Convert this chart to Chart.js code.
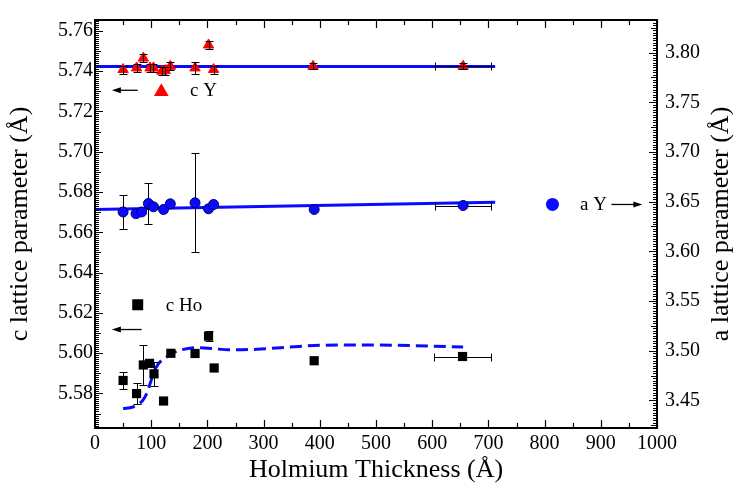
<!DOCTYPE html>
<html>
<head>
<meta charset="utf-8">
<script src="https://cdn.jsdelivr.net/npm/chart.js@4"></script>
<style>
  html, body { margin: 0; padding: 0; background: #fff; }
</style>
</head>
<body>
<canvas id="latt" width="738" height="493"></canvas>
<script>
const FONT = 'Liberation Serif';
Chart.defaults.font.family = FONT;

// Y: c lattice parameter vs Ho thickness
const thickCY = [50, 74, 86, 98, 104, 119, 125, 134, 178, 202, 211, 388, 655];
const cY      = [5.7408, 5.7416, 5.7465, 5.7416, 5.7416, 5.7400, 5.7403, 5.7424, 5.7416, 5.7530, 5.7408, 5.7424, 5.7424];
const cYErr   = [0.002, 0.002, 0.002, 0.002, 0.002, 0.002, 0.002, 0.002, 0.003, 0.002, 0.002, 0.0015, 0.0015];
const cYXErr  = [0, 0, 0, 0, 0, 0, 0, 0, 0, 0, 0, 0, 50];

// Y: a lattice parameter (right axis)
const thickAY = [50, 73, 83, 95, 104, 122, 134, 178, 202, 211, 390, 655];
const aY      = [3.6396, 3.6379, 3.6396, 3.6481, 3.6448, 3.6421, 3.6478, 3.6488, 3.6428, 3.6471, 3.6421, 3.6461];
const aYErr   = [0.0174, 0, 0, 0.021, 0, 0, 0, 0.0497, 0, 0, 0, 0];
const aYXErr  = [0, 0, 0, 0, 0, 0, 0, 0, 0, 0, 0, 50];

// Ho: c lattice parameter
const thickHo = [50, 74, 86, 97, 105, 122, 135, 178, 202, 212, 390, 654];
const cHo     = [5.5864, 5.5799, 5.5941, 5.5949, 5.5897, 5.5762, 5.5999, 5.5998, 5.6084, 5.5926, 5.5962, 5.5983];
const cHoErr  = [0.004, 0.0054, 0.0097, 0, 0.006, 0, 0, 0, 0.0025, 0, 0, 0];
const cHoXErr = [0, 0, 0, 0, 0, 0, 0, 0, 0, 0, 0, 50];

// fitted curves
const fitX    = [0, 712];
const cYFit   = [5.7423, 5.7423];
const aYFit   = [3.6421, 3.6495];
const hoFitX  = [50, 68, 89, 98, 107, 133, 151, 187, 210, 240, 288, 347, 406, 500, 655];
const hoFit   = [5.5725, 5.5733, 5.5782, 5.5848, 5.5921, 5.5991, 5.6014, 5.6027, 5.6022, 5.6016, 5.6019, 5.6030, 5.6039, 5.6040, 5.6030];

const xTicks = [0, 100, 200, 300, 400, 500, 600, 700, 800, 900, 1000];
const cTicks = [5.58, 5.60, 5.62, 5.64, 5.66, 5.68, 5.70, 5.72, 5.74, 5.76];
const aTicks = [3.45, 3.50, 3.55, 3.60, 3.65, 3.70, 3.75, 3.80];

const C_MIN = 5.5628, C_MAX = 5.7654;
const A_MIN = 3.4222, A_MAX = 3.8328;

function pts(xs, ys) {
  return xs.map((x, i) => ({ x: x, y: ys[i] }));
}

function drawErrors(chart, meta, ds) {
  const ctx = chart.ctx;
  const sx = chart.scales.x, sy = chart.scales[meta.yAxisID];
  const cap = 4;
  ctx.save();
  ctx.strokeStyle = '#000';
  ctx.lineWidth = 1;
  ds.data.forEach((p, i) => {
    const px = Math.round(sx.getPixelForValue(p.x)) + 0.5;
    const py = Math.round(sy.getPixelForValue(p.y)) + 0.5;
    const ey = ds.yErr ? ds.yErr[i] : 0;
    const ex = ds.xErr ? ds.xErr[i] : 0;
    ctx.beginPath();
    if (ey) {
      const t = Math.round(sy.getPixelForValue(p.y + ey)) + 0.5;
      const b = Math.round(sy.getPixelForValue(p.y - ey)) + 0.5;
      ctx.moveTo(px, t); ctx.lineTo(px, b);
      ctx.moveTo(px - cap, t); ctx.lineTo(px + cap, t);
      ctx.moveTo(px - cap, b); ctx.lineTo(px + cap, b);
    }
    if (ex) {
      const l = Math.round(sx.getPixelForValue(p.x - ex)) + 0.5;
      const r = Math.round(sx.getPixelForValue(p.x + ex)) + 0.5;
      ctx.moveTo(l, py); ctx.lineTo(r, py);
      ctx.moveTo(l, py - cap); ctx.lineTo(l, py + cap);
      ctx.moveTo(r, py - cap); ctx.lineTo(r, py + cap);
    }
    ctx.stroke();
  });
  ctx.restore();
}

const errorBars = {
  id: 'errorBars',
  beforeDatasetDraw(chart, args) {
    const ds = chart.data.datasets[args.index];
    if ((ds.yErr || ds.xErr) && !ds.errOnTop) drawErrors(chart, args.meta, ds);
  },
  afterDatasetDraw(chart, args) {
    const ds = chart.data.datasets[args.index];
    if ((ds.yErr || ds.xErr) && ds.errOnTop) drawErrors(chart, args.meta, ds);
  }
};

function marker(ctx, style, x, y, r, fill) {
  ctx.beginPath();
  if (style === 'triangle') {
    ctx.moveTo(x, y - r);
    ctx.lineTo(x + r * 1.05, y + r * 0.8);
    ctx.lineTo(x - r * 1.05, y + r * 0.8);
    ctx.closePath();
  } else if (style === 'rect') {
    ctx.rect(x - r, y - r, 2 * r, 2 * r);
  } else {
    ctx.arc(x, y, r, 0, Math.PI * 2);
  }
  ctx.fillStyle = fill;
  ctx.fill();
}

function arrow(ctx, x1, x2, y) {
  const dir = Math.sign(x2 - x1);
  ctx.beginPath();
  ctx.moveTo(x1, y); ctx.lineTo(x2 - dir * 6, y);
  ctx.lineWidth = 1.3;
  ctx.strokeStyle = '#000';
  ctx.stroke();
  ctx.beginPath();
  ctx.moveTo(x2, y);
  ctx.lineTo(x2 - dir * 9, y - 3);
  ctx.lineTo(x2 - dir * 9, y + 3);
  ctx.closePath();
  ctx.fillStyle = '#000';
  ctx.fill();
}

// series labels with arrows pointing to the axis each series belongs to
const notes = [
  { style: 'triangle', fill: '#ff0000', r: 7, mx: 118, tx: 169, y: 5.7305, text: 'c Y', from: 76, to: 30 },
  { style: 'rect', fill: '#000', r: 5.5, mx: 76, tx: 126, y: 5.624, text: 'c Ho', from: 83, to: 30, ay: 5.6117 },
  { style: 'circle', fill: '#0a0aff', r: 6.5, mx: 814, tx: 863, y: 5.6738, text: 'a Y', from: 919, to: 974 }
];

const labels = {
  id: 'labels',
  afterDraw(chart) {
    const ctx = chart.ctx, sx = chart.scales.x, sy = chart.scales.y;
    ctx.save();
    notes.forEach(n => {
      const y = sy.getPixelForValue(n.y);
      marker(ctx, n.style, sx.getPixelForValue(n.mx), y, n.r, n.fill);
      ctx.font = '19px "' + FONT + '"';
      ctx.fillStyle = '#000';
      ctx.textBaseline = 'middle';
      ctx.textAlign = 'left';
      ctx.fillText(n.text, sx.getPixelForValue(n.tx), y + 1);
      const ay = n.ay !== undefined ? sy.getPixelForValue(n.ay) : y;
      arrow(ctx, sx.getPixelForValue(n.from), sx.getPixelForValue(n.to), ay);
    });
    // right axis title, reading bottom to top like the left one
    const a = chart.chartArea;
    ctx.translate(721, (a.top + a.bottom) / 2);
    ctx.rotate(-Math.PI / 2);
    ctx.font = '26px "' + FONT + '"';
    ctx.textAlign = 'center';
    ctx.textBaseline = 'middle';
    ctx.fillText('a lattice parameter (Å)', 0, 0);
    ctx.restore();
  }
};

// box frame with inward major/minor ticks on all sides
const frame = {
  id: 'frame',
  afterDraw(chart) {
    const { ctx, chartArea: a, scales } = chart;
    ctx.save();
    ctx.strokeStyle = '#000';
    ctx.lineWidth = 1.2;
    const seg = (x1, y1, x2, y2) => { ctx.moveTo(x1, y1); ctx.lineTo(x2, y2); };
    ctx.beginPath();
    for (let k = 0; k <= 20; k++) {
      const px = Math.round(scales.x.getPixelForValue(k * 50)) + 0.5;
      const len = k % 2 === 0 ? 8 : 5;
      seg(px, a.bottom, px, a.bottom - len);
      seg(px, a.top, px, a.top + len);
    }
    for (let k = Math.ceil(C_MIN * 1000); k <= Math.floor(C_MAX * 1000); k++) {
      const py = Math.round(scales.y.getPixelForValue(k / 1000)) + 0.5;
      const len = k % 20 === 0 ? 8 : (k % 10 === 0 ? 6 : 4);
      seg(a.left, py, a.left + len, py);
    }
    for (let k = Math.ceil(A_MIN * 400); k <= Math.floor(A_MAX * 400); k++) {
      const py = Math.round(scales.y2.getPixelForValue(k / 400)) + 0.5;
      const len = k % 20 === 0 ? 8 : (k % 10 === 0 ? 6 : 4);
      seg(a.right, py, a.right - len, py);
    }
    ctx.stroke();
    ctx.lineWidth = 2;
    ctx.strokeRect(a.left, a.top, a.right - a.left, a.bottom - a.top);
    ctx.restore();
  }
};

new Chart(document.getElementById('latt'), {
  type: 'scatter',
  data: {
    datasets: [
      {
        label: 'c Y', data: pts(thickCY, cY), yAxisID: 'y',
        pointStyle: 'triangle', pointRadius: 6,
        backgroundColor: '#ff0000', borderColor: '#ff0000', borderWidth: 1,
        yErr: cYErr, xErr: cYXErr, errOnTop: true
      },
      {
        label: 'a Y', data: pts(thickAY, aY), yAxisID: 'y2',
        pointStyle: 'circle', pointRadius: 5,
        backgroundColor: '#0a0aff', borderColor: '#00006e', borderWidth: 1,
        yErr: aYErr, xErr: aYXErr
      },
      {
        label: 'c Ho', data: pts(thickHo, cHo), yAxisID: 'y',
        pointStyle: 'rect', pointRadius: 6.5,
        backgroundColor: '#000', borderColor: '#000', borderWidth: 0,
        yErr: cHoErr, xErr: cHoXErr
      },
      {
        label: 'c Y fit', type: 'line', data: pts(fitX, cYFit), yAxisID: 'y',
        borderColor: '#0a0aff', borderWidth: 3, pointRadius: 0, fill: false
      },
      {
        label: 'a Y fit', type: 'line', data: pts(fitX, aYFit), yAxisID: 'y2',
        borderColor: '#0a0aff', borderWidth: 3, pointRadius: 0, fill: false
      },
      {
        label: 'c Ho fit', type: 'line', data: pts(hoFitX, hoFit), yAxisID: 'y',
        borderColor: '#0a0aff', borderWidth: 3, borderDash: [12, 6], pointRadius: 0,
        cubicInterpolationMode: 'monotone', fill: false
      }
    ]
  },
  options: {
    responsive: false,
    animation: false,
    devicePixelRatio: 1,
    layout: { padding: { top: 15, left: 0, right: 0, bottom: 0 } },
    plugins: { legend: { display: false }, tooltip: { enabled: false } },
    scales: {
      x: {
        type: 'linear', position: 'bottom', min: 0, max: 1000,
        afterBuildTicks: s => { s.ticks = xTicks.map(v => ({ value: v })); },
        afterFit: s => { s.height = 65; },
        grid: { display: false, drawTicks: false },
        border: { display: false },
        ticks: {
          font: { family: FONT, size: 20 }, color: '#000', padding: 4,
          maxRotation: 0, autoSkip: false, callback: v => String(v)
        },
        title: {
          display: true, text: 'Holmium Thickness (Å)', color: '#000',
          font: { family: FONT, size: 26 }, padding: { top: 0, bottom: 7 }
        }
      },
      y: {
        type: 'linear', position: 'left', min: C_MIN, max: C_MAX,
        afterBuildTicks: s => { s.ticks = cTicks.map(v => ({ value: v })); },
        afterFit: s => { s.width = 95; },
        grid: { display: false, drawTicks: false },
        border: { display: false },
        ticks: { font: { family: FONT, size: 20 }, color: '#000', padding: 2, callback: v => v.toFixed(2) },
        title: {
          display: true, text: 'c lattice parameter (Å)', color: '#000',
          font: { family: FONT, size: 26 }, padding: { top: 5, bottom: 0 }
        }
      },
      y2: {
        type: 'linear', position: 'right', min: A_MIN, max: A_MAX,
        afterBuildTicks: s => { s.ticks = aTicks.map(v => ({ value: v })); },
        afterFit: s => { s.width = 81; },
        grid: { display: false, drawTicks: false },
        border: { display: false },
        ticks: { font: { family: FONT, size: 20 }, color: '#000', padding: 8, callback: v => v.toFixed(2) }
      }
    }
  },
  plugins: [errorBars, frame, labels]
});
</script>
</body>
</html>
